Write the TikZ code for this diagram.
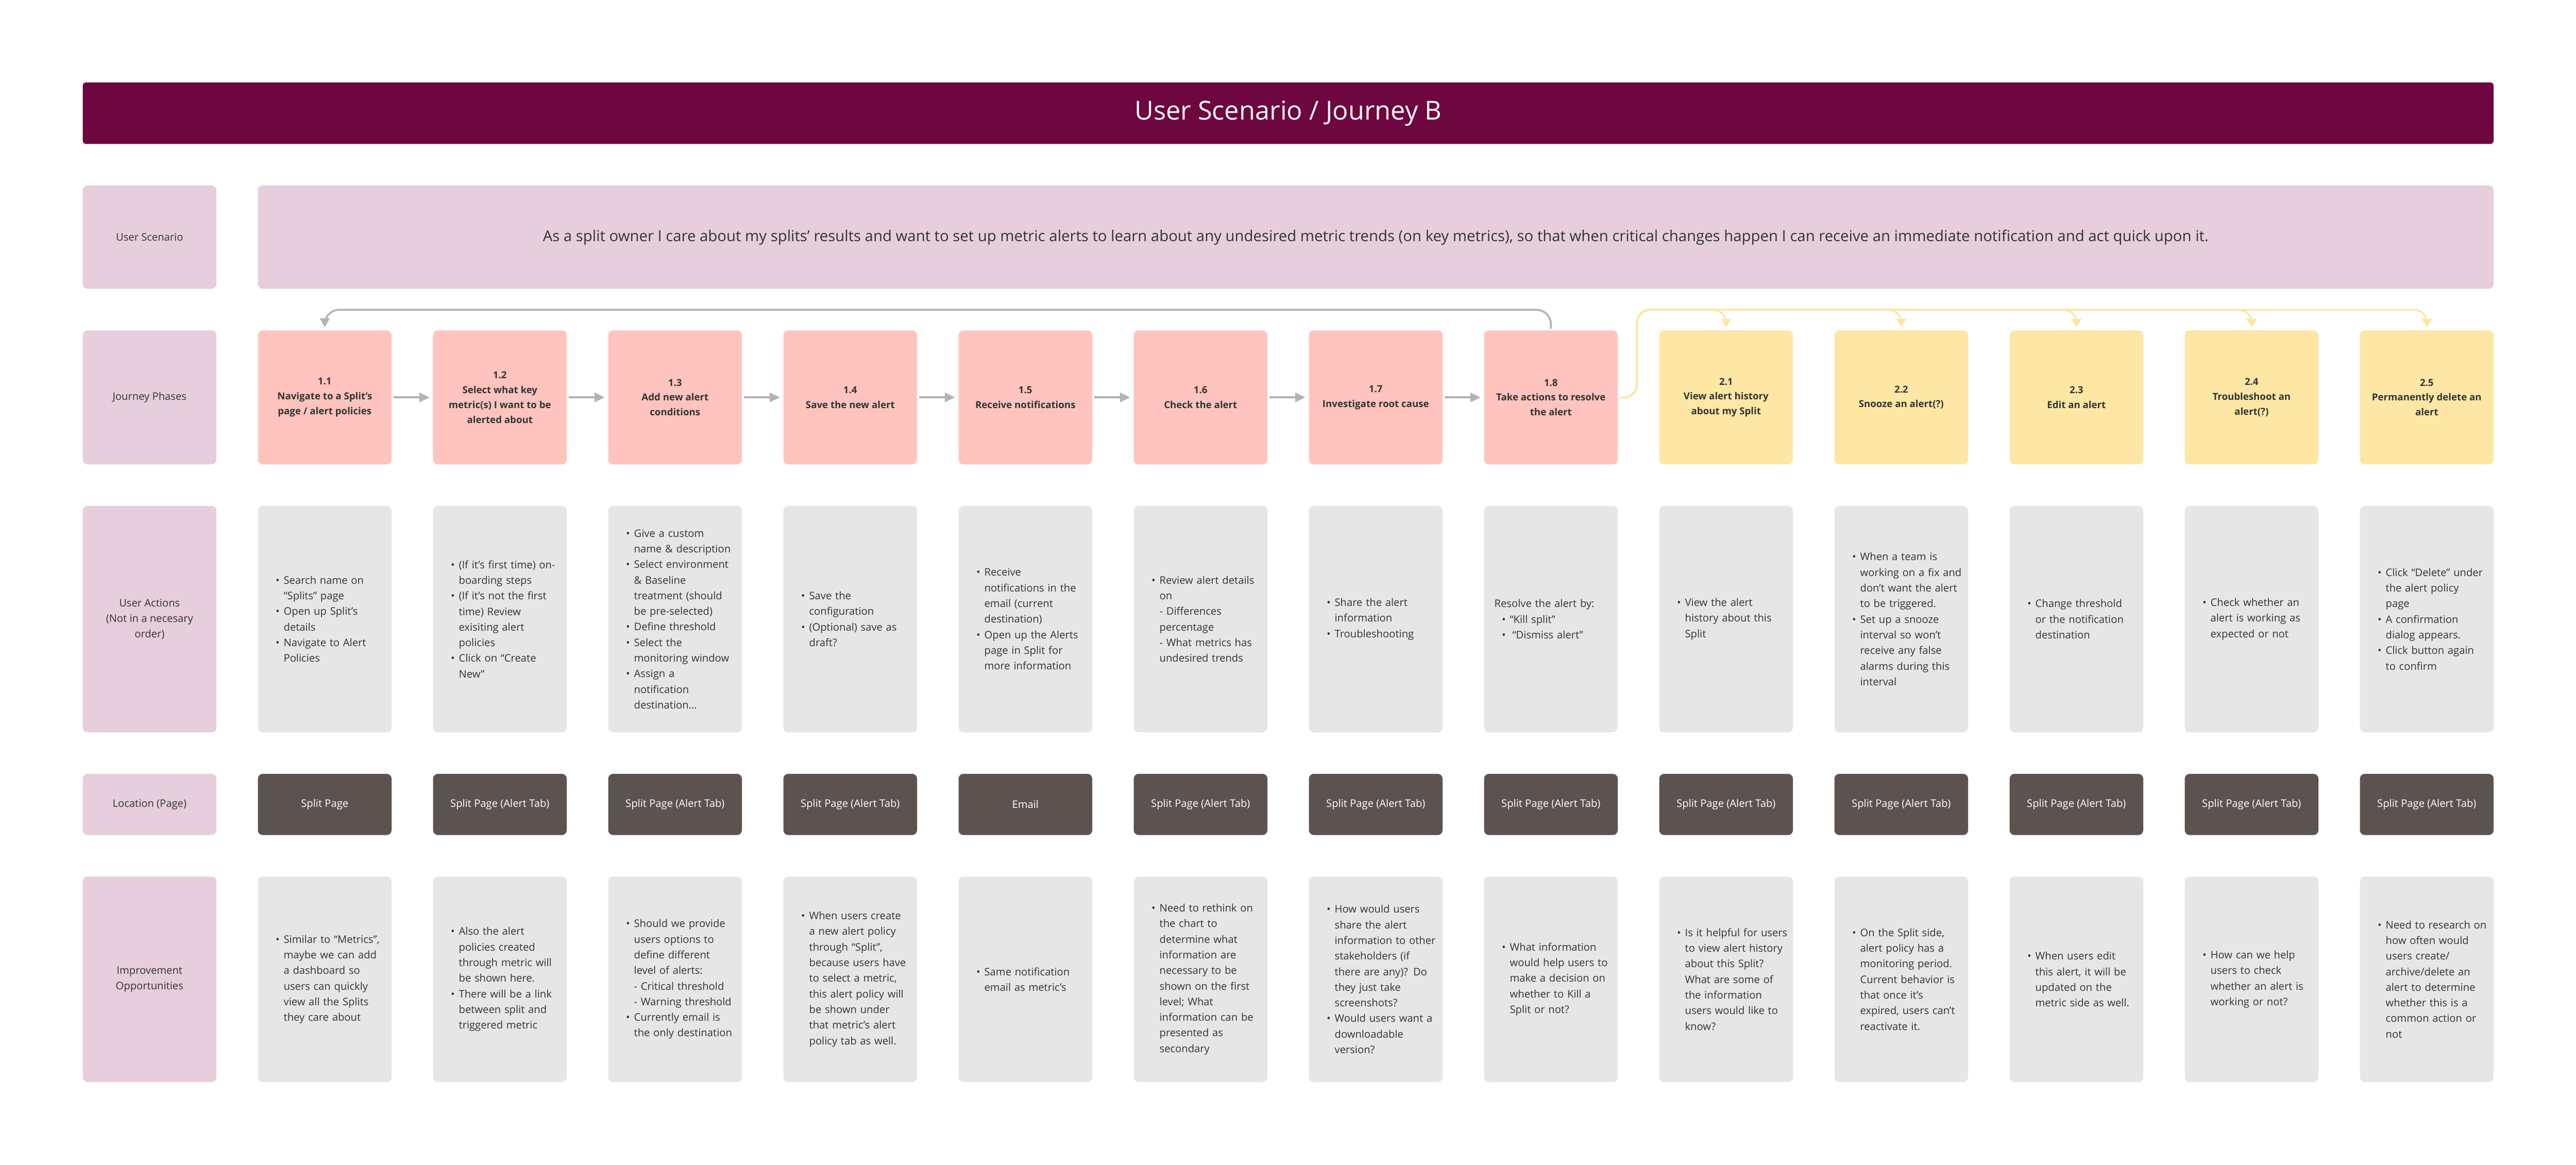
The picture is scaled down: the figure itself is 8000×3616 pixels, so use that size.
\documentclass[tikz,border=0pt]{standalone}
\usepackage{fontspec}
\setmainfont{Open Sans}
\usepackage{tikz}
\usetikzlibrary{positioning,arrows.meta}
\definecolor{plum}{HTML}{6E063F}
\definecolor{mauve}{HTML}{E6CEDC}
\definecolor{salmon}{HTML}{FFC4BD}
\definecolor{butter}{HTML}{FEE7A5}
\definecolor{mist}{HTML}{E6E6E6}
\definecolor{umber}{HTML}{5C5350}
\definecolor{ink}{HTML}{333333}
\definecolor{rail}{HTML}{B3B3B3}
\definecolor{railyel}{HTML}{FDE6A2}
\hyphenpenalty=10000
\exhyphenpenalty=10000
\newcommand{\fsz}[2]{\fontsize{#1}{#2}\selectfont}
\newcommand{\lead}{\hspace*{1.95mm}}
\newcommand{\bul}{\hspace*{4.25mm}\makebox[2.5mm][l]{\textbullet}}
\newcommand{\cont}{\hspace*{6.75mm}}

\begin{document}
\begin{tikzpicture}[x=0.1mm,y=-0.1mm,node distance=12.9mm,
	cell/.style={rounded corners=1.5mm,minimum width=41.5mm,inner sep=0pt,outer sep=0pt,align=center,text=ink,font=\fsz{9.2}{13.8}},
	head/.style={cell,fill=mauve},
	phase/.style={cell,fill=salmon,minimum height=41.6mm,font=\bfseries\fsz{8.5}{13.1}},
	later/.style={phase,fill=butter},
	act/.style={cell,fill=mist,minimum height=70.3mm,text width=39mm,align=left},
	idea/.style={act,minimum height=63.8mm},
	loc/.style={cell,fill=umber,text=white,minimum height=19mm},
	next/.style={rail,line width=0.6mm,shorten <=0.7mm,shorten >=1.1mm,-{Triangle[length=3.2mm,width=2.9mm]}},
	back/.style={rail,line width=0.6mm,rounded corners=4.5mm,shorten <=0.5mm,shorten >=1mm,-{Triangle[length=2.8mm,width=3mm]}},
	fork/.style={railyel,line width=0.55mm,rounded corners=4mm,shorten <=0.6mm,shorten >=1mm,-{Triangle[length=2.6mm,width=3mm]}}]
	\useasboundingbox (0,0) rectangle (8000,3616);

	\node[fill=plum,rounded corners=1mm,minimum width=748.7mm,minimum height=19.1mm,text=white,font=\fsz{23}{28}] (t) at (4000.5,351.5) {User Scenario / Journey B};

	% row labels
	\node[head,minimum height=32.1mm,anchor=north west] (lscen) at (257,576) {User Scenario};
	\node[head,minimum height=41.6mm] (lphase) [below=of lscen] {Journey Phases};
	\node[head,minimum height=70.3mm] (lact) [below=of lphase] {User Actions\\(Not in a necesary\\order)};
	\node[head,minimum height=19mm] (lloc) [below=of lact] {Location (Page)};
	\node[head,minimum height=63.8mm] (lidea) [below=of lloc] {Improvement\\Opportunities};

	\node[head,minimum width=694.3mm,minimum height=32.1mm,font=\fsz{13.35}{16}] (sc) [right=of lscen] {As a split owner I care about my splits' results and want to set up metric alerts to learn about any undesired metric trends (on key metrics), so that when critical changes happen I can receive an immediate notification and act quick upon it.};

	% journey phases
	\node[phase] (p11) [right=of lphase] {1.1\\Navigate to a Split’s\\page / alert policies};
	\node[phase] (p12) [right=of p11] {1.2\\Select what key\\metric(s) I want to be\\alerted about};
	\node[phase] (p13) [right=of p12] {1.3\\Add new alert\\conditions};
	\node[phase] (p14) [right=of p13] {1.4\\Save the new alert};
	\node[phase] (p15) [right=of p14] {1.5\\Receive notifications};
	\node[phase] (p16) [right=of p15] {1.6\\Check the alert};
	\node[phase] (p17) [right=of p16] {1.7\\Investigate root cause};
	\node[phase] (p18) [right=of p17] {1.8\\Take actions to resolve\\the alert};
	\node[later] (p21) [right=of p18] {2.1\\View alert history\\about my Split};
	\node[later] (p22) [right=of p21] {2.2\\Snooze an alert(?)};
	\node[later] (p23) [right=of p22] {2.3\\Edit an alert};
	\node[later] (p24) [right=of p23] {2.4\\Troubleshoot an\\alert(?)};
	\node[later] (p25) [right=of p24] {2.5\\Permanently delete an\\alert};

	% user actions
	\node[act] (a11) [right=of lact] {\bul Search name on\\\cont “Splits” page\\\bul Open up Split’s\\\cont details\\\bul Navigate to Alert\\\cont Policies};
	\node[act] (a12) [right=of a11] {\bul (If it’s first time) on-\\\cont boarding steps\\\bul (If it’s not the first\\\cont time) Review\\\cont exisiting alert\\\cont policies\\\bul Click on “Create\\\cont New”};
	\node[act] (a13) [right=of a12] {\bul Give a custom\\\cont name \& description\\\bul Select environment\\\cont \& Baseline\\\cont treatment (should\\\cont be pre-selected)\\\bul Define threshold\\\bul Select the\\\cont monitoring window\\\bul Assign a\\\cont notification\\\cont destination...};
	\node[act] (a14) [right=of a13] {\bul Save the\\\cont configuration\\\bul (Optional) save as\\\cont draft?};
	\node[act] (a15) [right=of a14] {\bul Receive\\\cont notifications in the\\\cont email (current\\\cont destination)\\\bul Open up the Alerts\\\cont page in Split for\\\cont more information};
	\node[act] (a16) [right=of a15] {\bul Review alert details\\\cont on\\\cont - Differences\\\cont percentage\\\cont - What metrics has\\\cont undesired trends};
	\node[act] (a17) [right=of a16] {\bul Share the alert\\\cont information\\\bul Troubleshooting};
	\node[act] (a18) [right=of a17] {\lead Resolve the alert by:\\\bul “Kill split”\\\bul\hspace{0.8mm}“Dismiss alert”};
	\node[act] (a21) [right=of a18] {\bul View the alert\\\cont history about this\\\cont Split};
	\node[act] (a22) [right=of a21] {\bul When a team is\\\cont working on a fix and\\\cont don’t want the alert\\\cont to be triggered.\\\bul Set up a snooze\\\cont interval so won’t\\\cont receive any false\\\cont alarms during this\\\cont interval};
	\node[act] (a23) [right=of a22] {\bul Change threshold\\\cont or the notification\\\cont destination};
	\node[act] (a24) [right=of a23] {\bul Check whether an\\\cont alert is working as\\\cont expected or not};
	\node[act] (a25) [right=of a24] {\bul Click “Delete” under\\\cont the alert policy\\\cont page\\\bul A confirmation\\\cont dialog appears.\\\bul Click button again\\\cont to confirm};

	% location
	\node[loc] (l11) [right=of lloc] {Split Page};
	\node[loc] (l12) [right=of l11] {Split Page (Alert Tab)};
	\node[loc] (l13) [right=of l12] {Split Page (Alert Tab)};
	\node[loc] (l14) [right=of l13] {Split Page (Alert Tab)};
	\node[loc] (l15) [right=of l14] {Email};
	\node[loc] (l16) [right=of l15] {Split Page (Alert Tab)};
	\node[loc] (l17) [right=of l16] {Split Page (Alert Tab)};
	\node[loc] (l18) [right=of l17] {Split Page (Alert Tab)};
	\node[loc] (l21) [right=of l18] {Split Page (Alert Tab)};
	\node[loc] (l22) [right=of l21] {Split Page (Alert Tab)};
	\node[loc] (l23) [right=of l22] {Split Page (Alert Tab)};
	\node[loc] (l24) [right=of l23] {Split Page (Alert Tab)};
	\node[loc] (l25) [right=of l24] {Split Page (Alert Tab)};

	% improvement opportunities
	\node[idea] (i11) [right=of lidea] {\bul Similar to “Metrics”,\\\cont maybe we can add\\\cont a dashboard so\\\cont users can quickly\\\cont view all the Splits\\\cont they care about};
	\node[idea] (i12) [right=of i11] {\bul Also the alert\\\cont policies created\\\cont through metric will\\\cont be shown here.\\\bul There will be a link\\\cont between split and\\\cont triggered metric};
	\node[idea] (i13) [right=of i12] {\bul Should we provide\\\cont users options to\\\cont define different\\\cont level of alerts:\\\cont - Critical threshold\\\cont - Warning threshold\\\bul Currently email is\\\cont the only destination};
	\node[idea] (i14) [right=of i13] {\bul When users create\\\cont a new alert policy\\\cont through “Split”,\\\cont because users have\\\cont to select a metric,\\\cont this alert policy will\\\cont be shown under\\\cont that metric’s alert\\\cont policy tab as well.};
	\node[idea] (i15) [right=of i14] {\bul Same notification\\\cont email as metric’s};
	\node[idea] (i16) [right=of i15] {\bul Need to rethink on\\\cont the chart to\\\cont determine what\\\cont information are\\\cont necessary to be\\\cont shown on the first\\\cont level; What\\\cont information can be\\\cont presented as\\\cont secondary};
	\node[idea] (i17) [right=of i16] {\bul How would users\\\cont share the alert\\\cont information to other\\\cont stakeholders (if\\\cont there are any)? Do\\\cont they just take\\\cont screenshots?\\\bul Would users want a\\\cont downloadable\\\cont version?};
	\node[idea] (i18) [right=of i17] {\bul What information\\\cont would help users to\\\cont make a decision on\\\cont whether to Kill a\\\cont Split or not?};
	\node[idea] (i21) [right=of i18] {\bul Is it helpful for users\\\cont to view alert history\\\cont about this Split?\\\cont What are some of\\\cont the information\\\cont users would like to\\\cont know?};
	\node[idea] (i22) [right=of i21] {\bul On the Split side,\\\cont alert policy has a\\\cont monitoring period.\\\cont Current behavior is\\\cont that once it’s\\\cont expired, users can’t\\\cont reactivate it.};
	\node[idea] (i23) [right=of i22] {\bul When users edit\\\cont this alert, it will be\\\cont updated on the\\\cont metric side as well.};
	\node[idea] (i24) [right=of i23] {\bul How can we help\\\cont users to check\\\cont whether an alert is\\\cont working or not?};
	\node[idea] (i25) [right=of i24] {\bul Need to research on\\\cont how often would\\\cont users create/\\\cont archive/delete an\\\cont alert to determine\\\cont whether this is a\\\cont common action or\\\cont not};

	% connectors
	\foreach \a/\b in {p11/p12,p12/p13,p13/p14,p14/p15,p15/p16,p16/p17,p17/p18}
		\draw[next] (\a) -- (\b);
	\draw[back] (p18.north) -- ++(0,-64) -| (p11.north);
	\foreach \b in {p21,p22,p23,p24,p25}
		\draw[fork] (p18.east) -- ++(60,0) -- ++(0,-272) -| (\b.north);
\end{tikzpicture}
\end{document}
